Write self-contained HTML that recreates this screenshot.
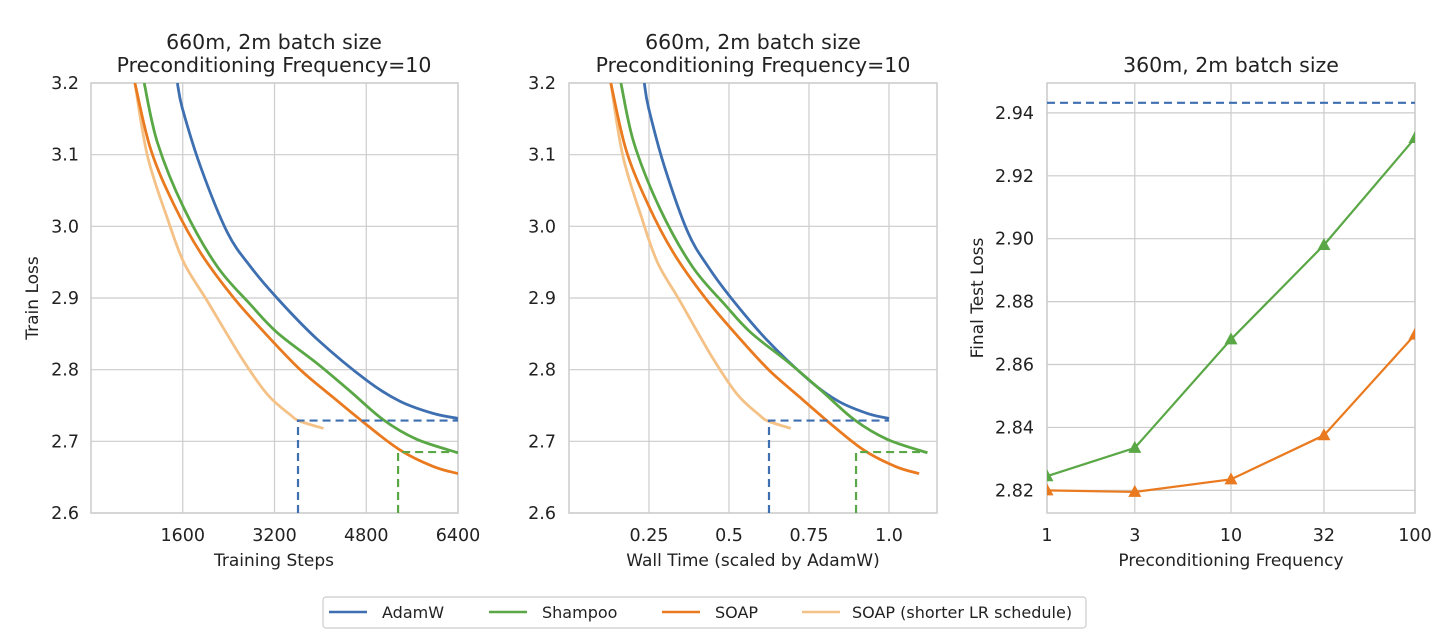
<!DOCTYPE html>
<html><head><meta charset="utf-8"><style>
body{margin:0;background:#fff;}
svg{display:block;font-family:"DejaVu Sans","Liberation Sans",sans-serif;}
</style></head><body>
<svg id="chart" width="1456" height="636" viewBox="0 0 1456 636"></svg>
<script>
// ---- Panel 1/2 data (steps) ----
const adamSteps=[1506,1593,1911,2375,2780,3243,3938,4807,5386,5966,6400];
const adamLoss=[3.2,3.165,3.083,2.992,2.944,2.90,2.843,2.785,2.756,2.739,2.732];
const shampooSteps=[927,1158,1622,2201,2780,3243,3938,4518,5097,5676,6400];
const shampooLoss=[3.2,3.117,3.025,2.944,2.891,2.852,2.809,2.770,2.730,2.703,2.684];
const soapSteps=[765,1042,1448,1911,2491,3070,3649,4228,4807,5386,5966,6400];
const soapLoss=[3.2,3.107,3.030,2.963,2.90,2.848,2.80,2.761,2.723,2.688,2.665,2.655];
const soapShortSteps=[765,985,1332,1622,2027,2606,3070,3475,3649,4054];
const soapShortLoss=[3.2,3.098,3.011,2.949,2.896,2.819,2.766,2.737,2.728,2.718];
// wall-time per full run (scaled by AdamW)
const timeFactor={adam:1.0,shampoo:1.12,soap:1.094};
const p1XTicks=[1600,3200,4800,6400];
const p2XTicks=[0.25,0.5,0.75,1.0];
const p2XTickLabels=["0.25","0.5","0.75","1.0"];
const lossTicks=[2.6,2.7,2.8,2.9,3.0,3.1,3.2];
const matchLevelAdam=2.729, matchLevelShampoo=2.685;
const p1MatchStepAdam=3610, p1MatchStepShampoo=5355;
const p2MatchTimeAdam=0.625, p2MatchTimeShampoo=0.897;
// ---- Panel 3 data ----
const freqs=[1,3,10,32,100];
const shampooFinal=[2.8245,2.8335,2.868,2.898,2.932];
const soapFinal=[2.820,2.8195,2.8235,2.8375,2.8695];
const adamFinal=2.9432;
const p3YTicks=[2.82,2.84,2.86,2.88,2.90,2.92,2.94];

const C={adam:"#3e6fb0",shampoo:"#5aa746",soap:"#ea7a1f",short:"#f4c187",grid:"#cccccc"};
const FT=17.5, FA=17, FTI=20.5, FL=16;
const svg=document.getElementById('chart');
const NS="http://www.w3.org/2000/svg";
function el(tag,attrs,parent){const e=document.createElementNS(NS,tag);for(const k in attrs)e.setAttribute(k,attrs[k]);(parent||svg).appendChild(e);return e;}
function txt(s,x,y,size,anchor,parent,extra){const t=el('text',Object.assign({x:x,y:y,'font-size':size,'text-anchor':anchor||'middle',fill:'#222'},extra||{}),parent);t.textContent=s;return t;}
function smooth(pts){let d="M"+pts[0][0].toFixed(1)+","+pts[0][1].toFixed(1);for(let i=0;i<pts.length-1;i++){const p0=pts[i-1]||pts[i],p1=pts[i],p2=pts[i+1],p3=pts[i+2]||p2;const c1x=p1[0]+(p2[0]-p0[0])/6,c1y=p1[1]+(p2[1]-p0[1])/6,c2x=p2[0]-(p3[0]-p1[0])/6,c2y=p2[1]-(p3[1]-p1[1])/6;d+=" C"+c1x.toFixed(1)+","+c1y.toFixed(1)+" "+c2x.toFixed(1)+","+c2y.toFixed(1)+" "+p2[0].toFixed(1)+","+p2[1].toFixed(1);}return d;}

function panel(name,L,R,T,B,clipId){
  const g=el('g',{});
  
  
  const cp=el('clipPath',{id:clipId},g);el('rect',{x:L,y:T,width:R-L,height:B-T},cp);
  return g;
}
const T=83,B=513;
// ---------- Panel 1 ----------
(function(){
  const L=91,R=458;
  const g=panel('panel-training-steps',L,R,T,B,'c1');
  const x=v=>L+(v/6400)*(R-L), y=v=>B-(v-2.6)/0.6*(B-T);
  lossTicks.forEach(v=>{el('line',{x1:L,x2:R,y1:y(v),y2:y(v),stroke:C.grid,'stroke-width':1.2},g);const t=txt(v.toFixed(1),79,y(v)+6,FT,'end',g);});
  p1XTicks.forEach(v=>{el('line',{x1:x(v),x2:x(v),y1:T,y2:B,stroke:C.grid,'stroke-width':1.2},g);const t=txt(String(v),x(v),541,FT,'middle',g);});
  el('rect',{x:L,y:T,width:R-L,height:B-T,fill:'none',stroke:C.grid,'stroke-width':1.5},g);
  const cg=el('g',{'clip-path':'url(#c1)'},g);
  [[soapShortSteps,soapShortLoss,C.short,'soap-short-curve'],[adamSteps,adamLoss,C.adam,'adamw-curve'],[shampooSteps,shampooLoss,C.shampoo,'shampoo-curve'],[soapSteps,soapLoss,C.soap,'soap-curve']].forEach(s=>{
    const p=el('path',{d:smooth(s[0].map((v,i)=>[x(v),y(s[1][i])])),fill:'none',stroke:s[2],'stroke-width':2.8,'stroke-linejoin':'round'},cg);
    
    
  });
  el('path',{d:`M${x(p1MatchStepAdam)},${B} V${y(matchLevelAdam)} H${R}`,fill:'none',stroke:C.adam,'stroke-width':2.2,'stroke-dasharray':'8,5'},cg);
  el('path',{d:`M${x(p1MatchStepShampoo)},${B} V${y(matchLevelShampoo)} H${R}`,fill:'none',stroke:C.shampoo,'stroke-width':2.2,'stroke-dasharray':'8,5'},cg);
  txt('660m, 2m batch size',274,49,FTI,'middle',g);
  txt('Preconditioning Frequency=10',274,72,FTI,'middle',g);
  const xl=txt('Training Steps',274,566,FA,'middle',g);
  const yl=txt('Train Loss',38,298,FA,'middle',g,{transform:'rotate(-90 38 298)'});
})();
// ---------- Panel 2 ----------
(function(){
  const L=569,R=937;
  const g=panel('panel-wall-time',L,R,T,B,'c2');
  const x=v=>L+(v/1.15)*(R-L), y=v=>B-(v-2.6)/0.6*(B-T);
  lossTicks.forEach(v=>{el('line',{x1:L,x2:R,y1:y(v),y2:y(v),stroke:C.grid,'stroke-width':1.2},g);const t=txt(v.toFixed(1),556,y(v)+6,FT,'end',g);});
  p2XTicks.forEach((v,i)=>{el('line',{x1:x(v),x2:x(v),y1:T,y2:B,stroke:C.grid,'stroke-width':1.2},g);const t=txt(p2XTickLabels[i],x(v),541,FT,'middle',g);});
  el('rect',{x:L,y:T,width:R-L,height:B-T,fill:'none',stroke:C.grid,'stroke-width':1.5},g);
  const cg=el('g',{'clip-path':'url(#c2)'},g);
  [[soapShortSteps,soapShortLoss,C.short,timeFactor.soap,'soap-short-curve'],[adamSteps,adamLoss,C.adam,timeFactor.adam,'adamw-curve'],[shampooSteps,shampooLoss,C.shampoo,timeFactor.shampoo,'shampoo-curve'],[soapSteps,soapLoss,C.soap,timeFactor.soap,'soap-curve']].forEach(s=>{
    const p=el('path',{d:smooth(s[0].map((v,i)=>[x(v/6400*s[3]),y(s[1][i])])),fill:'none',stroke:s[2],'stroke-width':2.8,'stroke-linejoin':'round'},cg);
    
    
  });
  el('path',{d:`M${x(p2MatchTimeAdam)},${B} V${y(matchLevelAdam)} H${x(timeFactor.adam)}`,fill:'none',stroke:C.adam,'stroke-width':2.2,'stroke-dasharray':'8,5'},cg);
  el('path',{d:`M${x(p2MatchTimeShampoo)},${B} V${y(matchLevelShampoo)} H${x(timeFactor.shampoo)}`,fill:'none',stroke:C.shampoo,'stroke-width':2.2,'stroke-dasharray':'8,5'},cg);
  txt('660m, 2m batch size',753,49,FTI,'middle',g);
  txt('Preconditioning Frequency=10',753,72,FTI,'middle',g);
  const xl=txt('Wall Time (scaled by AdamW)',753,566,FA,'middle',g);
})();
// ---------- Panel 3 ----------
(function(){
  const L=1047,R=1415,y0=2.8128,y1=2.9495;
  const g=panel('panel-precond-frequency',L,R,T,B,'c3');
  const x=v=>L+Math.log10(v)/2*(R-L), y=v=>B-(v-y0)/(y1-y0)*(B-T);
  p3YTicks.forEach(v=>{el('line',{x1:L,x2:R,y1:y(v),y2:y(v),stroke:C.grid,'stroke-width':1.2},g);const t=txt(v.toFixed(2),1034,y(v)+6,FT,'end',g);});
  freqs.forEach(v=>{el('line',{x1:x(v),x2:x(v),y1:T,y2:B,stroke:C.grid,'stroke-width':1.2},g);const t=txt(String(v),x(v),541,FT,'middle',g);});
  el('rect',{x:L,y:T,width:R-L,height:B-T,fill:'none',stroke:C.grid,'stroke-width':1.5},g);
  const cg=el('g',{'clip-path':'url(#c3)'},g);
  const ad=el('line',{x1:L,x2:R,y1:y(adamFinal),y2:y(adamFinal),stroke:C.adam,'stroke-width':2.2,'stroke-dasharray':'8,5'},cg);
  
  
  [[shampooFinal,C.shampoo,'shampoo-line'],[soapFinal,C.soap,'soap-line']].forEach(s=>{
    const pl=el('polyline',{points:freqs.map((f,i)=>x(f)+","+y(s[0][i])).join(" "),fill:'none',stroke:s[1],'stroke-width':2.2},cg);
    
    
    freqs.forEach((f,i)=>{const cx=x(f),cy=y(s[0][i]);
      const m=el('polygon',{points:`${cx},${cy-7} ${cx-6.5},${cy+5} ${cx+6.5},${cy+5}`,fill:s[1]},cg);
      
      });
  });
  txt('360m, 2m batch size',1231,72,FTI,'middle',g);
  const xl=txt('Preconditioning Frequency',1231,566,FA,'middle',g);
  const yl=txt('Final Test Loss',983,298,FA,'middle',g,{transform:'rotate(-90 983 298)'});
})();
// ---------- Legend ----------
(function(){
  const g=el('g',{});
  
  
  el('rect',{x:323,y:597,width:763,height:31,rx:3,fill:'#fff',stroke:'#cccccc','stroke-width':1.2},g);
  [[329,382,C.adam,'AdamW'],[489,542,C.shampoo,'Shampoo'],[662,715,C.soap,'SOAP'],[802,852,C.short,'SOAP (shorter LR schedule)']].forEach(e=>{
    const eg=el('g',{},g);
    
    
    el('line',{x1:e[0],x2:e[0]+38,y1:612,y2:612,stroke:e[2],'stroke-width':2.5},eg);
    txt(e[3],e[1],618,FL,'start',eg);
  });
})();
</script>
</body></html>
